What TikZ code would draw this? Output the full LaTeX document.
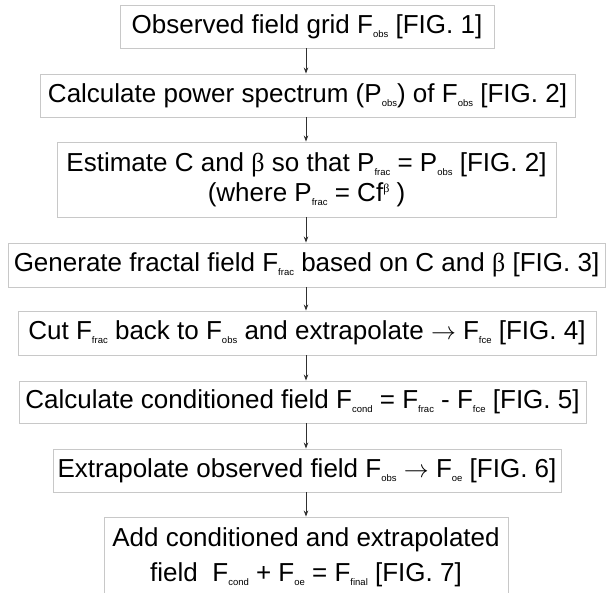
\documentclass[tikz,border=0pt]{standalone}
\usepackage{fontspec}
\setmainfont{Liberation Sans}
\newfontfamily\grkfont{Liberation Serif}
\usetikzlibrary{arrows.meta}
\definecolor{boxgray}{HTML}{C8C8C8}
\definecolor{arrgray}{HTML}{303030}
\newcommand{\sbs}[1]{\raisebox{-4pt}{\fontsize{9.5}{10}\selectfont #1}}
\newcommand{\sps}[1]{\raisebox{8.5pt}{\fontsize{12}{12}\selectfont #1}}
\newcommand{\bet}{{\grkfont β}}
\newcommand{\rarr}{\ensuremath{\rightarrow}}
\tikzset{
  stepbox/.style={draw=boxgray, line width=0.9pt, inner sep=0pt, align=center,
    font=\fontsize{26}{30}\selectfont, text=black},
  arr/.style={draw=arrgray, line width=0.8pt, -{Stealth[length=6pt,width=4.5pt]}}
}
\begin{document}
\begin{tikzpicture}[x=1pt,y=-1pt]
\useasboundingbox (0,0) rectangle (608,593);
\clip (0,0) rectangle (608,593);
\coordinate (axis) at (306,0);
\node[stepbox, minimum width=374pt, minimum height=43pt] (b1) at (307,26.5)
  {Observed field grid F\sbs{obs} [FIG. 1]};
\node[stepbox, minimum width=535pt, minimum height=43pt] (b2) at (307.5,95.5)
  {Calculate power spectrum (P\sbs{obs}) of F\sbs{obs} [FIG. 2]};
\node[stepbox, minimum width=499pt, minimum height=75pt] (b3) at (306.5,179.5)
  {Estimate C and \bet{} so that P\sbs{frac} = P\sbs{obs} [FIG. 2]\\(where P\sbs{frac} = Cf\sps{\bet} )};
\node[stepbox, minimum width=597pt, minimum height=44pt] (b4) at (306.5,265)
  {Generate fractal field F\sbs{frac} based on C and \bet{} [FIG. 3]};
\node[stepbox, minimum width=578pt, minimum height=44pt] (b5) at (307,333)
  {Cut F\sbs{frac} back to F\sbs{obs} and extrapolate \rarr{} F\sbs{fce} [FIG. 4]};
\node[stepbox, minimum width=567pt, minimum height=42pt] (b6) at (302.5,402)
  {Calculate conditioned field F\sbs{cond} = F\sbs{frac} - F\sbs{fce} [FIG. 5]};
\node[stepbox, minimum width=508pt, minimum height=43pt] (b7) at (307,470.5)
  {Extrapolate observed field F\sbs{obs} \rarr{} F\sbs{oe} [FIG. 6]};
\node[stepbox, minimum width=404pt, minimum height=81pt, font=\fontsize{26}{35}\selectfont] (b8) at (306,557.5)
  {Add conditioned and extrapolated\\field\ \ F\sbs{cond} + F\sbs{oe} = F\sbs{final} [FIG. 7]};
\draw[arr] (b1.south -| axis) -- (b2.north -| axis);
\draw[arr] (b2.south -| axis) -- (b3.north -| axis);
\draw[arr] (b3.south -| axis) -- (b4.north -| axis);
\draw[arr] (b4.south -| axis) -- (b5.north -| axis);
\draw[arr] (b5.south -| axis) -- (b6.north -| axis);
\draw[arr] (b6.south -| axis) -- (b7.north -| axis);
\draw[arr] (b7.south -| axis) -- (b8.north -| axis);
\end{tikzpicture}
\end{document}
